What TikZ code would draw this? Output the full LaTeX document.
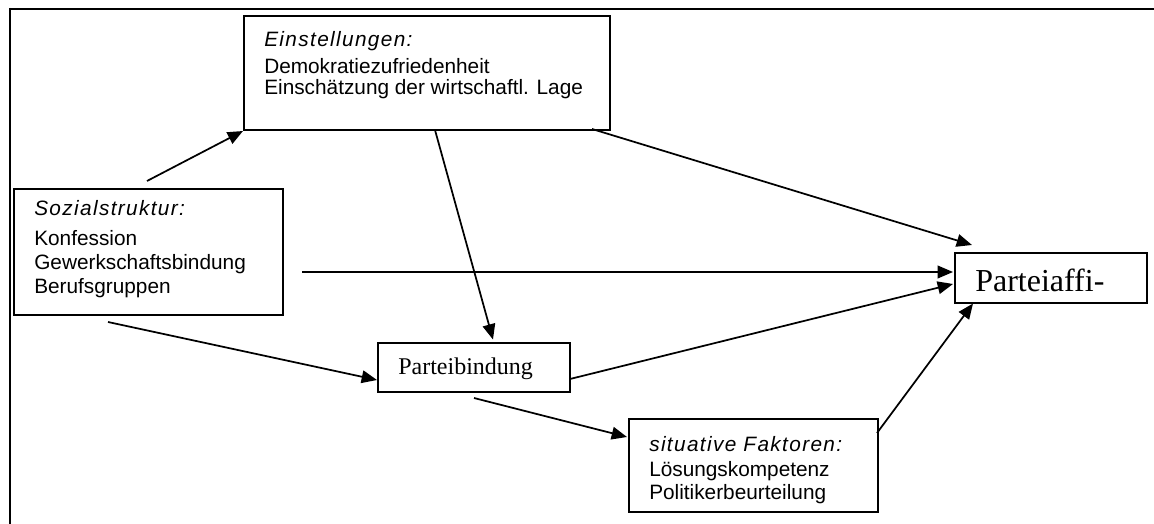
\documentclass[tikz,border=0pt]{standalone}
\usepackage{fontspec}
\setmainfont{Liberation Serif}
\newfontfamily\arialfont{Liberation Sans}
\newfontfamily\arialhead{Liberation Sans}[LetterSpace=6.5]
\usetikzlibrary{arrows.meta}
\tikzset{
  box/.style={draw, line width=1.5pt, inner sep=0pt, anchor=north west},
  txt/.style={anchor=base west, inner sep=0pt},
  sanstxt/.style={txt, font=\arialfont\fontsize{15.6}{18}\selectfont},
  headtxt/.style={txt, font=\arialhead\itshape\fontsize{15.6}{18}\selectfont},
  arr/.style={line width=1.3pt, -{Triangle[length=11.5pt, width=9.5pt]}},
  frame/.style={line width=1.8pt}
}
\begin{document}
\begin{tikzpicture}[x=0.75pt, y=-0.75pt]
\useasboundingbox (0,0) rectangle (1154,524);
% outer frame
\draw[frame] (10,9) -- (1154,9);
\draw[line width=2.1pt] (10,8) -- (10,524);
% boxes
\node[box, minimum width=274.5pt, minimum height=85.5pt] (einst) at (243,15) {};
\node[box, minimum width=201.75pt, minimum height=94.5pt] (soz) at (13,188) {};
\node[box, minimum width=144pt, minimum height=36.75pt] (pb) at (377,342) {};
\node[box, minimum width=186.75pt, minimum height=69.4pt] (sit) at (628,418.3) {};
\node[box, minimum width=144pt, minimum height=37.5pt] (affi) at (954,252) {};
% texts
\node[headtxt] (einst1) at (264,46.7) {Einstellungen:};
\node[sanstxt] (einst2) at (264,73.3) {Demokratiezufriedenheit};
\node[sanstxt] (einst3) at (264,95) {Einschätzung der wirtschaftl. Lage};
\node[headtxt] (soz1) at (34,215.7) {Sozialstruktur:};
\node[sanstxt] (soz2) at (34,246) {Konfession};
\node[sanstxt] (soz3) at (34,270) {Gewerkschaftsbindung};
\node[sanstxt] (soz4) at (34,293.3) {Berufsgruppen};
\node[txt, font=\fontsize{18}{21}\selectfont] (pbt) at (398,374) {Parteibindung};
\node[headtxt] (sit1) at (649,451) {situative Faktoren:};
\node[sanstxt] (sit2) at (649,476.7) {Lösungskompetenz};
\node[sanstxt] (sit3) at (649,499.3) {Politikerbeurteilung};
\node[txt, font=\fontsize{24}{28}\selectfont] (affit) at (975,291.7) {Parteiaffi-};
% connector end points
\coordinate (a1s) at (147,181);
\coordinate (a2s) at (592,129);
\coordinate (a2e) at (972,245);
\coordinate (a3s) at (435,130);
\coordinate (a3e) at (493,339.5);
\coordinate (a4s) at (302,272);
\coordinate (a4e) at (953,272);
\coordinate (a5s) at (108,322);
\coordinate (a5e) at (377,380);
\coordinate (a6s) at (570,379);
\coordinate (a6e) at (953,284);
\coordinate (a7s) at (474,398);
\coordinate (a7e) at (627,437);
\coordinate (a8s) at (877,433);
\coordinate (a8e) at (973,303.5);
% connectors
\draw[arr] (a1s) -- (einst.south west);
\draw[arr] (a2s) -- (a2e);
\draw[arr] (a3s) -- (a3e);
\draw[arr] (a4s) -- (a4e);
\draw[arr] (a5s) -- (a5e);
\draw[arr] (a6s) -- (a6e);
\draw[arr] (a7s) -- (a7e);
\draw[arr] (a8s) -- (a8e);
\end{tikzpicture}
\end{document}
